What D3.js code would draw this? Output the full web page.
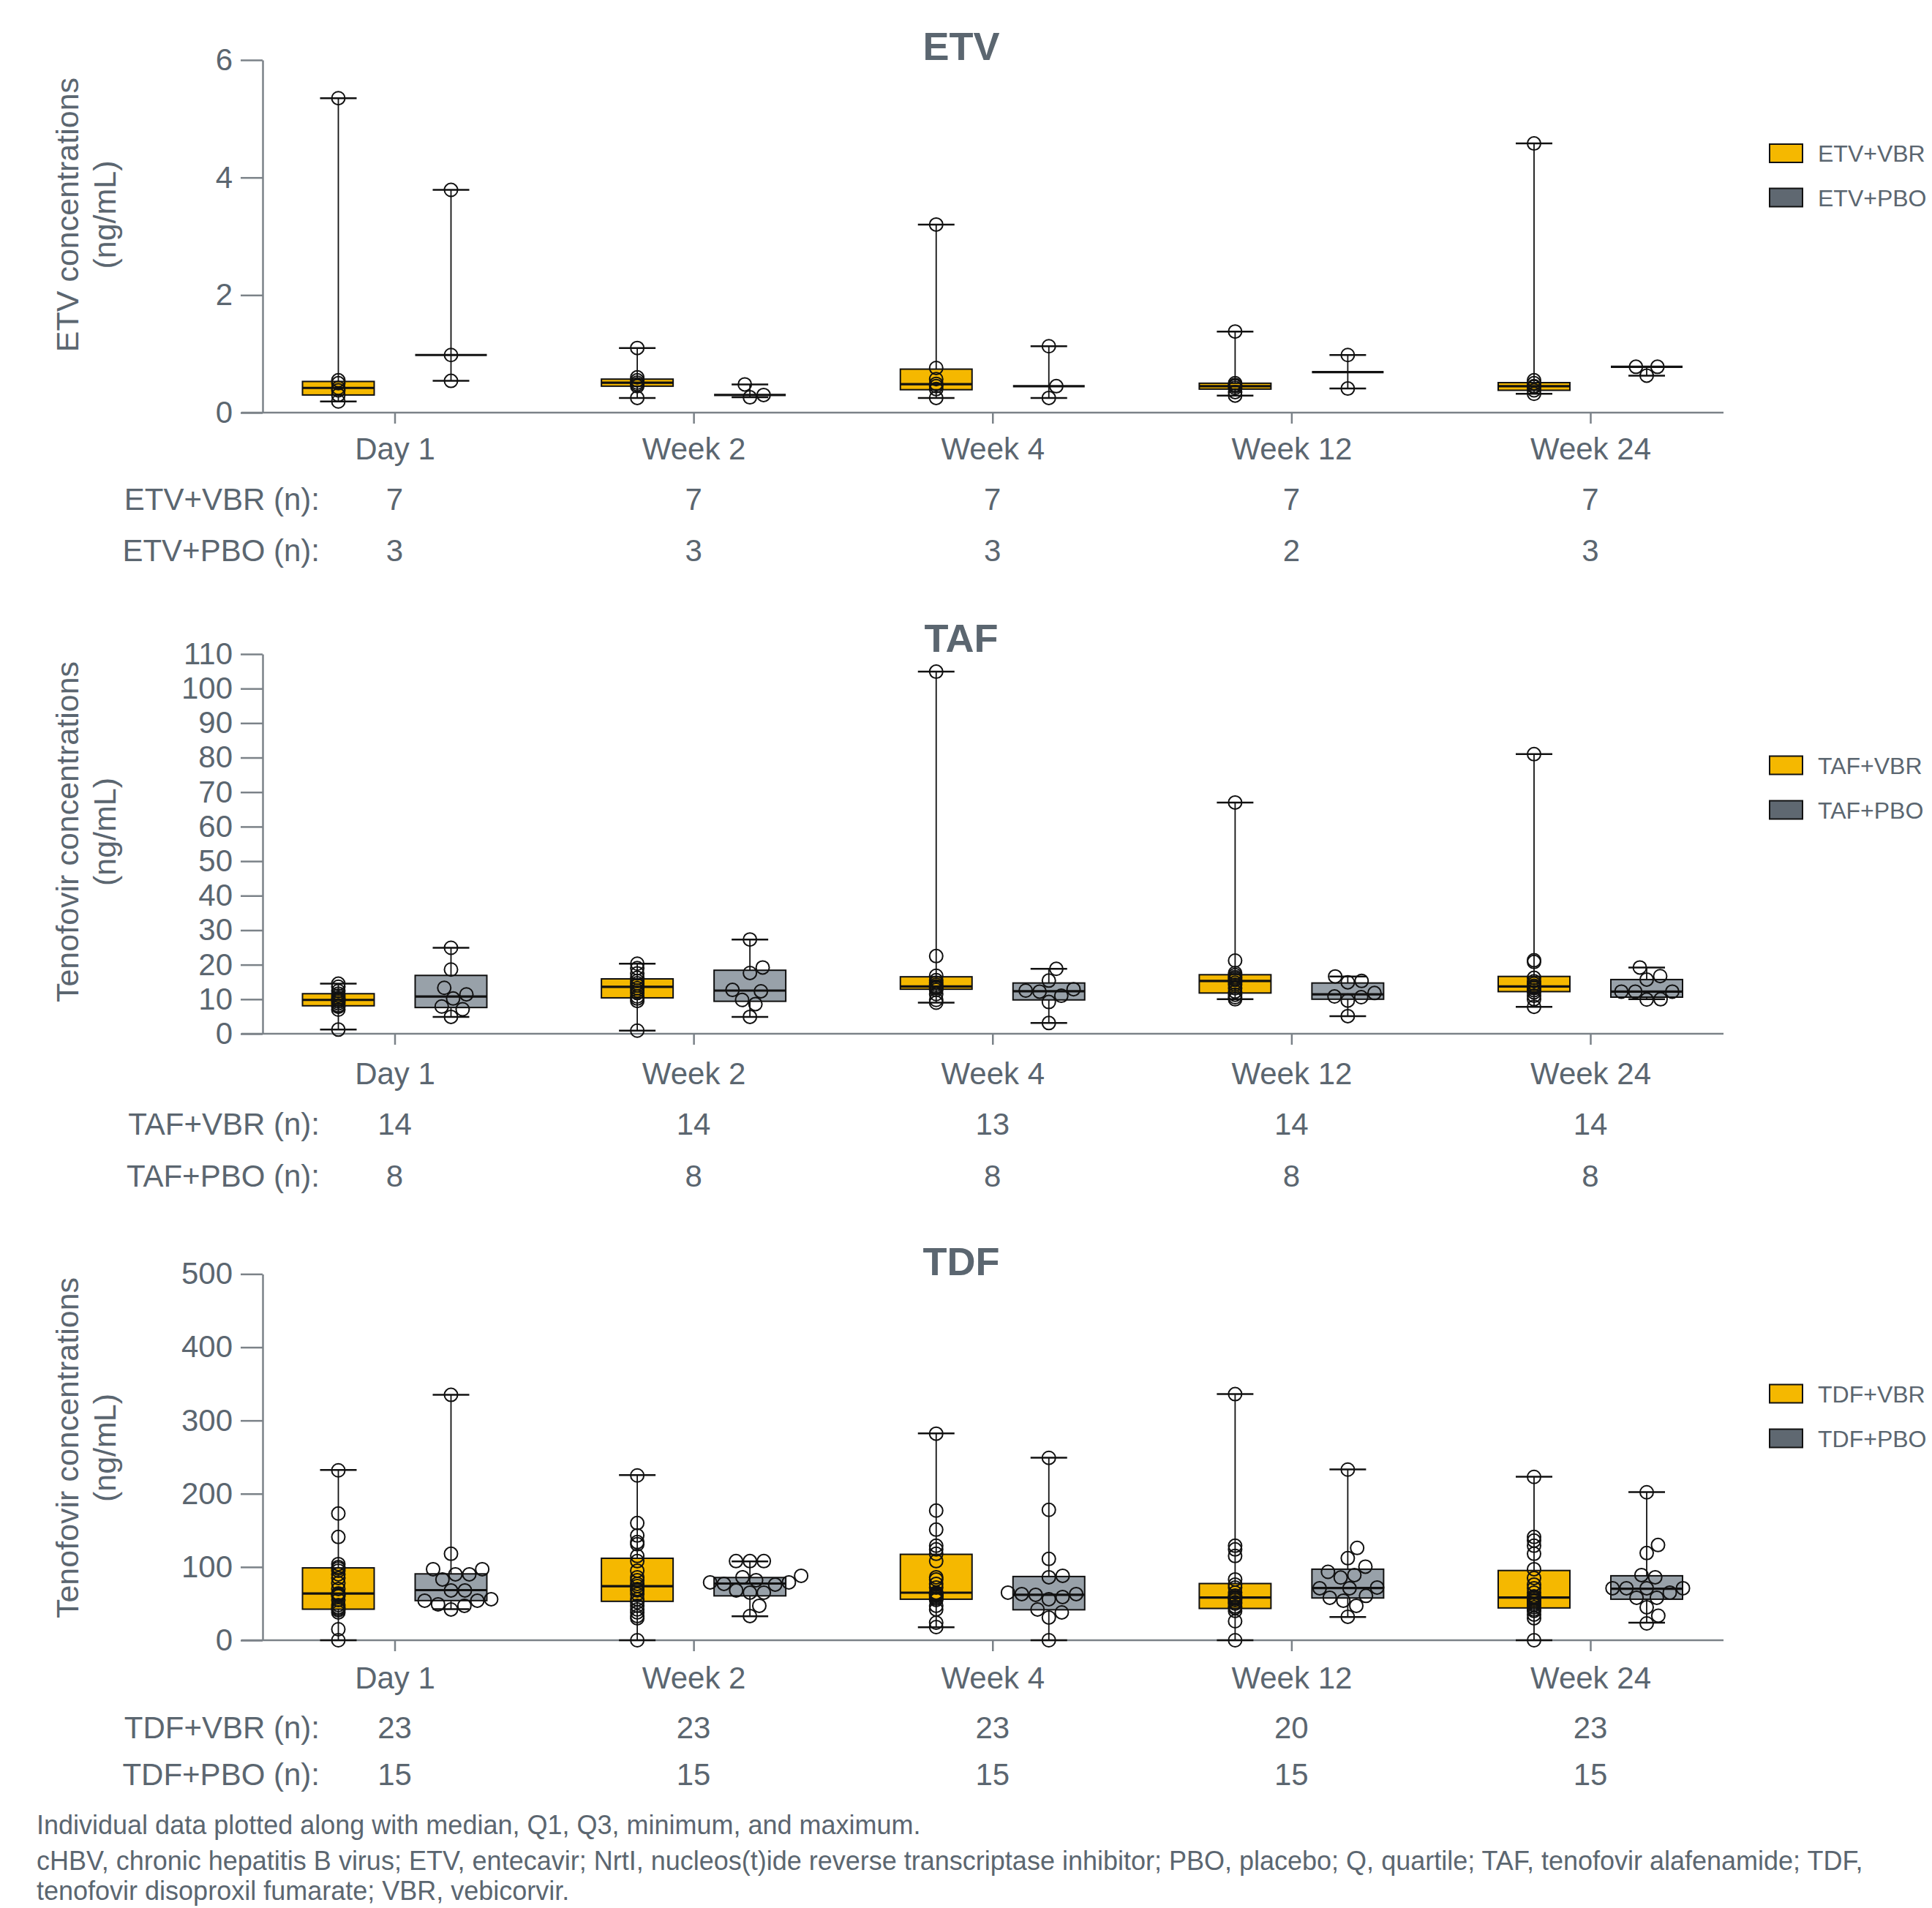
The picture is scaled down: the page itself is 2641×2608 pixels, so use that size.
<!DOCTYPE html>
<html><head><meta charset="utf-8">
<script src="https://cdn.jsdelivr.net/npm/d3@7"></script>
<style>
html,body{margin:0;padding:0;background:#fff;}
svg text{font-family:"Liberation Sans",Arial,Helvetica,sans-serif;}
</style></head><body>
<svg id="chart" width="2641" height="2608"></svg>
<script>
// ---------------- DATA ----------------
const categories = ["Day 1", "Week 2", "Week 4", "Week 12", "Week 24"];

// box statistics per visit: [min, Q1, median, Q3, max]
const etvVbrStats = [[0.19,0.30,0.42,0.53,5.35],[0.25,0.45,0.51,0.57,1.10],[0.25,0.39,0.485,0.74,3.20],[0.29,0.40,0.45,0.50,1.38],[0.32,0.38,0.45,0.51,4.58]];
const etvPboStats = [[0.54,0.98,0.98,0.98,3.79],[0.26,0.30,0.30,0.30,0.48],[0.25,0.45,0.45,0.45,1.13],[0.41,0.69,0.69,0.69,0.98],[0.63,0.78,0.78,0.78,0.78]];
const etvVbrPoints = [
  [0.19,0.30,0.38,0.42,0.50,0.55,5.35],
  [0.25,0.45,0.48,0.51,0.55,0.60,1.10],
  [0.25,0.40,0.45,0.49,0.57,0.76,3.20],
  [0.29,0.35,0.42,0.45,0.47,0.50,1.38],
  [0.32,0.38,0.44,0.45,0.50,0.55,4.58]];
const etvPboPoints = [[3.79,0.98,0.54],[0.48,0.30,0.26],[1.13,0.45,0.25],[0.98,0.41],[0.78,0.78,0.63]];
const etvVbrN = [7,7,7,7,7];
const etvPboN = [3,3,3,2,3];

const tafVbrStats = [[1.2,8.1,9.8,11.6,14.5],[0.9,10.4,13.6,15.9,20.3],[9.0,12.9,13.7,16.5,104.9],[10.0,11.8,15.3,17.1,67.0],[7.8,12.2,13.7,16.6,81.0]];
const tafPboStats = [[4.9,7.6,10.8,16.9,24.9],[4.9,9.4,12.5,18.4,27.3],[3.1,9.8,12.3,14.7,18.8],[5.1,10.0,11.4,14.7,16.6],[10.0,10.6,12.2,15.7,19.2]];
const tafVbrPoints = [
  [1.2,7.0,7.8,8.2,8.8,9.3,9.7,10.0,10.4,11.0,11.6,12.4,13.6,14.5],
  [0.9,9.5,10.2,10.8,11.8,12.5,13.2,14.0,14.6,15.3,16.2,17.5,19.0,20.3],
  [9.0,9.8,11.5,12.7,13.2,13.5,13.7,14.2,14.8,15.5,16.8,22.5,104.9],
  [10.0,10.6,11.3,12.2,13.2,14.2,14.8,15.6,16.0,16.4,17.0,17.6,21.2,67.0],
  [7.8,10.0,11.0,12.0,12.6,13.2,13.5,13.9,14.5,15.2,16.2,20.8,21.3,81.0]];
const tafPboPoints = [
  [24.9,18.6,13.3,11.4,10.2,7.9,7.1,4.9],
  [27.3,19.2,17.6,12.7,12.3,9.8,8.6,4.9],
  [18.8,15.4,12.9,12.5,12.2,11.0,9.2,3.1],
  [16.6,15.3,14.9,11.8,10.8,10.6,9.6,5.1],
  [19.2,16.7,15.7,12.2,12.2,12.2,10.0,9.9]];
const tafVbrN = [14,14,13,14,14];
const tafPboN = [8,8,8,8,8];

const tdfVbrStats = [[0,42.4,63.8,98.8,232.5],[0,53.1,73.8,111.9,225.4],[17.8,56,64.9,117.3,282.4],[0,43.4,58.4,77.4,336],[0,44.1,58.4,95.2,223.2]];
const tdfPboStats = [[42.4,54.1,68.4,90.6,335.2],[32.8,60.6,77.4,85.6,107.6],[0,41.6,62,87,249.3],[31.7,57.7,71.3,97,233.2],[23.9,56,70.2,88,202.2]];
const tdfVbrPoints = [
  [0,15,38,41,43,45,48,55,60,62,63,64,70,78,85,90,95,98,100,104,141,173,232],
  [0,30,33,38,42,47,52,56,63,68,70,74,77,82,86,95,108,115,131,134,143,160,225],
  [18,24,42,47,55,57,59,61,62,63,64,65,72,77,83,86,108,118,124,129,151,177,282],
  [0,26,40,44,46,50,52,55,57,58,59,61,65,72,76,83,115,124,129,336],
  [0,30,35,40,42,45,48,50,53,55,57,58,60,65,71,76,85,97,118,129,136,141,223]];
const tdfPboPoints = [
  [335,118,97,97,90,90,83,68,68,56,54,54,49,47,42],
  [108,108,108,88,86,82,79,79,77,76,68,65,65,47,33],
  [249,178,111,88,86,65,63,63,62,59,56,42,38,31,0],
  [233,126,112,100.5,93.4,89,85.6,72,71,71,60.6,58,54,47,32],
  [202,130,119,89,86,71,71,71,71,65,58,58,45,33.5,23]];
const tdfVbrN = [23,23,23,20,23];
const tdfPboN = [15,15,15,15,15];

const etvTicks = [0,2,4,6];
const tafTicks = [0,10,20,30,40,50,60,70,80,90,100,110];
const tdfTicks = [0,100,200,300,400,500];

const footnotes = [
  "Individual data plotted along with median, Q1, Q3, minimum, and maximum.",
  "cHBV, chronic hepatitis B virus; ETV, entecavir; NrtI, nucleos(t)ide reverse transcriptase inhibitor; PBO, placebo; Q, quartile; TAF, tenofovir alafenamide; TDF,",
  "tenofovir disoproxil fumarate; VBR, vebicorvir."
];

// ---------------- LAYOUT / STYLE ----------------
const TEXT = "#5b6670", AXIS = "#7b8288", VBR_FILL = "#f5b800", PBO_FILL = "#98a1a9", PBO_LEG = "#5f6871", INK = "#111";
const OFF = 77, BOXW = 98, CAPW = 50, R = 9, D = 19, FS = 42;

const panels = [
  {title:"ETV", ytitle:"ETV concentrations", domain:[0,6], ticks:etvTicks, yTop:82, yBot:564, titleY:82, pad:19, nY:[697,767], legY:[209.5,270], ytC:293.5,
   arms:[{stats:etvVbrStats, pts:etvVbrPoints, n:etvVbrN, fill:VBR_FILL, leg:VBR_FILL, name:"ETV+VBR", swarm:false},
         {stats:etvPboStats, pts:etvPboPoints, n:etvPboN, fill:PBO_FILL, leg:PBO_LEG, name:"ETV+PBO", swarm:true}]},
  {title:"TAF", ytitle:"Tenofovir concentrations", domain:[0,110], ticks:tafTicks, yTop:894, yBot:1413, titleY:891, pad:24, nY:[1551,1622], legY:[1046,1107], ytC:1137,
   arms:[{stats:tafVbrStats, pts:tafVbrPoints, n:tafVbrN, fill:VBR_FILL, leg:VBR_FILL, name:"TAF+VBR", swarm:false},
         {stats:tafPboStats, pts:tafPboPoints, n:tafPboN, fill:PBO_FILL, leg:PBO_LEG, name:"TAF+PBO", swarm:true}]},
  {title:"TDF", ytitle:"Tenofovir concentrations", domain:[0,500], ticks:tdfTicks, yTop:1741.4, yBot:2242, titleY:1743, pad:21, nY:[2376,2440], legY:[1905,1966], ytC:1979,
   arms:[{stats:tdfVbrStats, pts:tdfVbrPoints, n:tdfVbrN, fill:VBR_FILL, leg:VBR_FILL, name:"TDF+VBR", swarm:false},
         {stats:tdfPboStats, pts:tdfPboPoints, n:tdfPboN, fill:PBO_FILL, leg:PBO_LEG, name:"TDF+PBO", swarm:true}]}
];

function swarmOffsets(vals, yScale) {
  const idx = vals.map((v,i)=>i).sort((a,b)=>vals[a]-vals[b]);
  const placed = [], off = new Array(vals.length).fill(0);
  for (const i of idx) {
    const y = yScale(vals[i]);
    const cands = [0];
    placed.forEach(p => {
      const dy = Math.abs(p.y - y);
      if (dy < D) { const dx = Math.sqrt(D*D - dy*dy); cands.push(p.x + dx + 0.01, p.x - dx - 0.01); }
    });
    cands.sort((a,b)=>Math.abs(a)-Math.abs(b) || b-a);
    let xo = 0;
    for (const c of cands) {
      if (placed.every(p => (p.x-c)*(p.x-c) + (p.y-y)*(p.y-y) >= D*D - 0.05)) { xo = c; break; }
    }
    placed.push({x:xo, y:y}); off[i] = xo;
  }
  return off;
}

const svg = d3.select("#chart");
const x = d3.scalePoint().domain(categories).range([539.5, 2174]);

panels.forEach(p => {
  const y = d3.scaleLinear().domain(p.domain).range([p.yBot, p.yTop]);
  const g = svg.append("g");

  // title
  g.append("text").attr("x",1314).attr("y",p.titleY).attr("text-anchor","middle")
    .attr("font-size",54).attr("font-weight","bold").attr("fill",TEXT).text(p.title);

  // y axis
  const ya = g.append("g").attr("transform","translate(359,0)")
    .call(d3.axisLeft(y).tickValues(p.ticks).tickFormat(d3.format("d")).tickSize(30).tickSizeOuter(0).tickPadding(11));
  ya.select(".domain").attr("stroke",AXIS).attr("stroke-width",2.5);
  ya.selectAll(".tick line").attr("stroke",AXIS).attr("stroke-width",2.5);
  ya.selectAll(".tick text").attr("fill",TEXT).attr("font-size",FS).attr("font-family",null);

  // x baseline
  g.append("line").attr("x1",330).attr("x2",2356).attr("y1",p.yBot).attr("y2",p.yBot)
    .attr("stroke",AXIS).attr("stroke-width",2.5);
  const xa = g.append("g").attr("transform",`translate(0,${p.yBot})`)
    .call(d3.axisBottom(x).tickSize(15).tickSizeOuter(0).tickPadding(p.pad));
  xa.select(".domain").remove();
  xa.selectAll(".tick line").attr("stroke",AXIS).attr("stroke-width",2.5);
  xa.selectAll(".tick text").attr("fill",TEXT).attr("font-size",FS).attr("font-family",null);

  // y title
  const yt = g.append("g").attr("transform",`translate(107,${p.ytC}) rotate(-90)`);
  yt.append("text").attr("x",0).attr("y",0).attr("text-anchor","middle").attr("font-size",43).attr("fill",TEXT).text(p.ytitle);
  yt.append("text").attr("x",0).attr("y",51).attr("text-anchor","middle").attr("font-size",43).attr("fill",TEXT).text("(ng/mL)");

  // boxes
  p.arms.forEach((arm, ai) => {
    const dx = ai === 0 ? -OFF : OFF;
    categories.forEach((c, ci) => {
      const cx = x(c) + dx;
      const [mn, q1, md, q3, mx] = arm.stats[ci];
      const bg = g.append("g");
      bg.append("line").attr("x1",cx).attr("x2",cx).attr("y1",y(mx)).attr("y2",y(q3)).attr("stroke",INK).attr("stroke-width",1.8);
      bg.append("line").attr("x1",cx).attr("x2",cx).attr("y1",y(q1)).attr("y2",y(mn)).attr("stroke",INK).attr("stroke-width",1.8);
      bg.append("rect").attr("x",cx-BOXW/2).attr("width",BOXW).attr("y",y(q3)).attr("height",Math.max(0,y(q1)-y(q3)))
        .attr("fill",arm.fill).attr("stroke",INK).attr("stroke-width",2);
      bg.append("line").attr("x1",cx-BOXW/2).attr("x2",cx+BOXW/2).attr("y1",y(md)).attr("y2",y(md)).attr("stroke",INK).attr("stroke-width",3.2);
      [mn, mx].forEach(v => bg.append("line").attr("x1",cx-CAPW/2).attr("x2",cx+CAPW/2).attr("y1",y(v)).attr("y2",y(v)).attr("stroke",INK).attr("stroke-width",2.5));
      const vals = arm.pts[ci];
      const offs = arm.swarm ? swarmOffsets(vals, y) : vals.map(()=>0);
      bg.selectAll("circle.pt").data(vals).join("circle").attr("class","pt")
        .attr("cx",(d,i)=>cx+offs[i]).attr("cy",d=>y(d)).attr("r",R)
        .attr("fill","none").attr("stroke",INK).attr("stroke-width",2);
    });
  });

  // n rows
  p.arms.forEach((arm, ai) => {
    g.append("text").attr("x",437).attr("y",p.nY[ai]).attr("text-anchor","end").attr("font-size",FS).attr("fill",TEXT).text(arm.name + " (n):");
    categories.forEach((c, ci) => {
      g.append("text").attr("x",x(c)).attr("y",p.nY[ai]).attr("text-anchor","middle").attr("font-size",FS).attr("fill",TEXT).text(arm.n[ci]);
    });
  });

  // legend
  p.arms.forEach((arm, ai) => {
    g.append("rect").attr("x",2419).attr("y",p.legY[ai]-12.5).attr("width",45).attr("height",25)
      .attr("fill",arm.leg).attr("stroke",INK).attr("stroke-width",2);
    g.append("text").attr("x",2485).attr("y",p.legY[ai]).attr("dy","0.36em").attr("font-size",32).attr("fill",TEXT).text(arm.name);
  });
});

// footnotes
const fnY = [2507, 2556, 2597];
footnotes.forEach((t,i) => {
  svg.append("text").attr("x",50).attr("y",fnY[i]).attr("font-size",36).attr("fill",TEXT).text(t);
});
</script></body></html>
